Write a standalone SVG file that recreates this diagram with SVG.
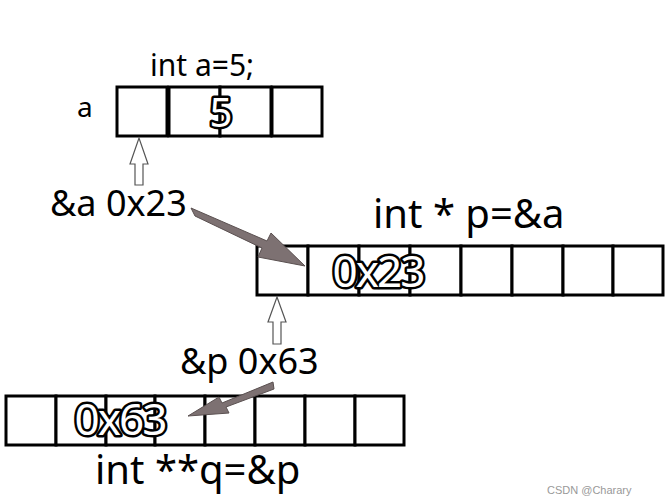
<svg xmlns="http://www.w3.org/2000/svg" width="666" height="500" viewBox="0 0 666 500">
<style>
.c{fill:#fff;stroke:#000;stroke-width:3}
.t{font-family:"Noto Sans","Open Sans",sans-serif;fill:#000}
.o{font-family:"Noto Sans","Open Sans",sans-serif;fill:#fff;stroke:#000;stroke-width:5;paint-order:stroke;stroke-linejoin:round}
.h{fill:#fff;stroke:#555;stroke-width:1.2}
.g{fill:#7d7172;stroke:#5a5050;stroke-width:1}
</style>
<rect width="666" height="500" fill="#fff"/>
<g id="a">
<text class="t" x="150" y="76" font-size="30">int a=5;</text>
<text class="t" x="77" y="117" font-size="28">a</text>
<rect class="c" x="117" y="87" width="50" height="49"/>
<rect class="c" x="169" y="87" width="51" height="49"/>
<rect class="c" x="220" y="87" width="51" height="49"/>
<rect class="c" x="272" y="87" width="50" height="49"/>
<text class="o" x="221" y="127" font-size="40" text-anchor="middle">5</text>
</g>
<g id="p">
<text class="t" x="373" y="228" font-size="40">int * p=&amp;a</text>
<rect class="c" x="257" y="246" width="51" height="49"/>
<rect class="c" x="308" y="246" width="51" height="49"/>
<rect class="c" x="359" y="246" width="51" height="49"/>
<rect class="c" x="410" y="246" width="51" height="49"/>
<rect class="c" x="461" y="246" width="51" height="49"/>
<rect class="c" x="512" y="246" width="51" height="49"/>
<rect class="c" x="563" y="246" width="50" height="49"/>
<rect class="c" x="613" y="246" width="50" height="49"/>
<text class="o" x="378" y="287" font-size="44" text-anchor="middle" letter-spacing="-2">0x23</text>
</g>
<g id="q">
<rect class="c" x="6" y="396" width="50" height="49"/>
<rect class="c" x="56" y="396" width="50" height="49"/>
<rect class="c" x="106" y="396" width="49" height="49"/>
<rect class="c" x="155" y="396" width="50" height="49"/>
<rect class="c" x="205" y="396" width="50" height="49"/>
<rect class="c" x="255" y="396" width="50" height="49"/>
<rect class="c" x="305" y="396" width="50" height="49"/>
<rect class="c" x="355" y="396" width="49" height="49"/>
<text class="o" x="120" y="435" font-size="44" text-anchor="middle" letter-spacing="-2">0x63</text>
<text class="t" x="95" y="484" font-size="40">int **q=&amp;p</text>
</g>
<g id="labels">
<text class="t" x="50" y="216" font-size="36">&amp;a 0x23</text>
<text class="t" x="180" y="374" font-size="36">&amp;p 0x63</text>
</g>
<g id="connectors">
<polygon class="h" points="135,185 143,185 143,164 148,164 139,138 130,164 135,164"/>
<polygon class="h" points="273,344 281,344 281,322 286,322 277,297 268,322 273,322"/>
<polygon class="g" points="191,208 195,216 262,248 258,257 305,266 271,233 267,241"/>
<polygon class="g" points="273,382 274,389 226,407 229,413 188,416 219,397 222,403"/>
</g>
<text x="547" y="494" font-family="Liberation Sans,sans-serif" font-size="11" fill="#999">CSDN @Charary</text>
</svg>
